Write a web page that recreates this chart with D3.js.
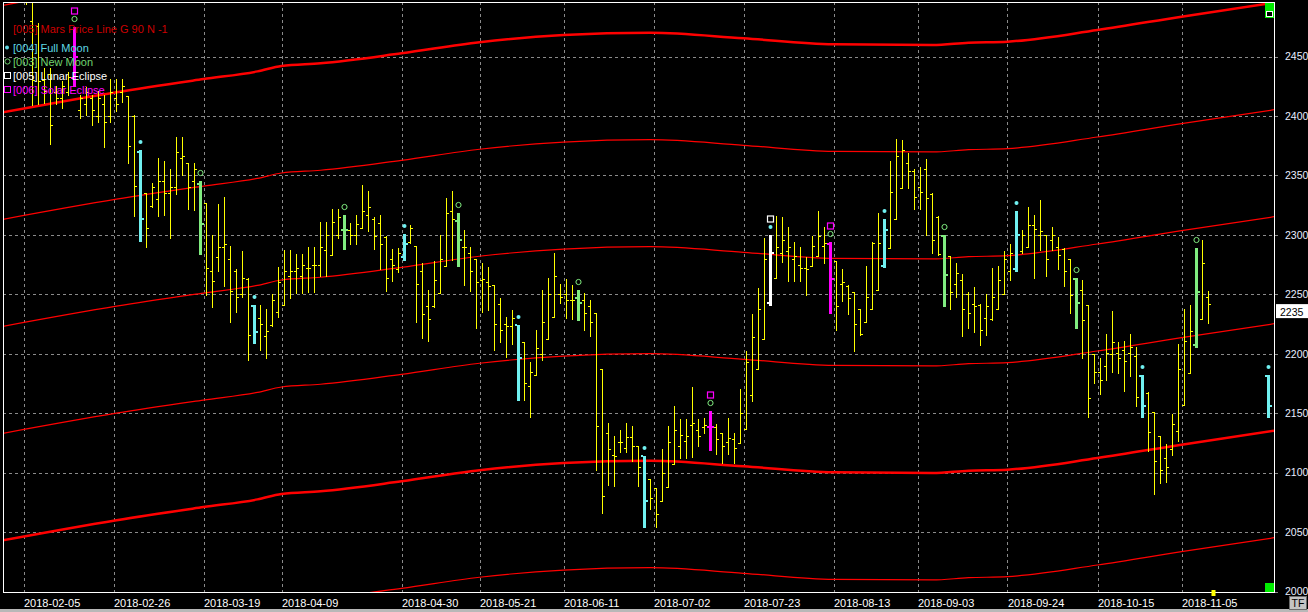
<!DOCTYPE html>
<html><head><meta charset="utf-8">
<script src="https://cdn.jsdelivr.net/npm/d3@7"></script>
<style>html,body{margin:0;padding:0;background:#000;overflow:hidden}</style>
</head><body><svg id="c" width="1308" height="612"></svg>
<script>
// ---------- DATA ----------
// bar slot index (one slot per session column); slots 198..206 carry no bar
const barSlot = d3.range(0, 198).concat([207]);
const barOpen = [2505,2480,2476,2430,2435,2420,2415,2420,2432,2405,2410,2415,2400,2410,2400,2415,2420,2417,2400,2370,
2335,2324,2330,2345,2335,2340,2365,2360,2345,2343,2327,2270,2281,2290,2280,2270,2250,2263,2240,2230,
2215,2224,2235,2241,2265,2270,2265,2272,2275,2275,2287,2283,2300,2304,2304,2300,2306,2317,2313,2310,
2298,2280,2271,2281,2294,2291,2270,2240,2240,2251,2274,2320,2312,2290,2285,2280,2262,2260,2258,2242,
2225,2223,2224,2210,2173,2182,2200,2212,2231,2250,2250,2245,2247,2245,2240,2234,2187,2133,2115,2126,
2121,2130,2122,2114,2095,2087,2076,2088,2107,2122,2127,2140,2136,2138,2138,2138,2133,2126,2128,2125,
2137,2165,2187,2212,2243,2264,2285,2286,2280,2275,2272,2274,2282,2291,2292,2278,2259,2257,2252,2238,
2227,2238,2254,2274,2289,2313,2339,2360,2354,2340,2355,2334,2315,2299,2282,2259,2262,2250,2242,2241,
2230,2229,2238,2250,2270,2271,2286,2290,2308,2300,2300,2296,2290,2288,2280,2263,2254,2241,2200,2185,
2190,2200,2201,2203,2201,2198,2181,2167,2151,2131,2112,2120,2135,2157,2184,2207,2229,2248,2181];
const barHigh = [2512,2505,2478,2440,2440,2425,2429,2437,2475,2418,2424,2418,2421,2418,2431,2431,2431,2417,2401,2371,
2335,2344,2365,2362,2355,2382,2382,2360,2360,2345,2327,2300,2326,2332,2291,2271,2286,2264,2241,2241,
2238,2250,2273,2287,2287,2284,2284,2290,2290,2311,2311,2322,2322,2317,2310,2317,2342,2337,2315,2317,
2299,2288,2289,2301,2308,2291,2276,2254,2278,2300,2331,2337,2318,2304,2290,2280,2276,2273,2258,2247,
2231,2237,2224,2210,2193,2220,2254,2264,2285,2259,2263,2258,2254,2251,2245,2234,2187,2142,2131,2136,
2142,2139,2122,2114,2095,2087,2120,2139,2156,2145,2145,2172,2145,2146,2152,2141,2133,2146,2133,2170,
2202,2233,2255,2297,2300,2316,2315,2307,2294,2290,2281,2299,2320,2307,2294,2278,2271,2258,2252,2238,
2274,2294,2318,2313,2362,2381,2380,2369,2355,2357,2364,2335,2316,2300,2282,2276,2267,2252,2256,2242,
2250,2272,2274,2286,2292,2320,2304,2323,2317,2329,2300,2307,2298,2289,2280,2264,2262,2241,2200,2196,
2217,2236,2210,2211,2217,2206,2182,2168,2151,2131,2124,2149,2208,2238,2241,2289,2296,2253,2182];
const barLow = [2494,2409,2410,2411,2376,2410,2407,2418,2425,2398,2401,2392,2395,2374,2395,2404,2412,2360,2316,2295,
2290,2323,2316,2317,2297,2334,2350,2322,2321,2284,2249,2239,2270,2257,2227,2235,2248,2195,2209,2203,
2196,2223,2231,2241,2247,2251,2251,2252,2252,2265,2265,2283,2297,2288,2292,2292,2306,2303,2288,2271,
2253,2261,2269,2279,2293,2227,2213,2211,2239,2251,2274,2279,2274,2258,2253,2222,2235,2237,2203,2210,
2197,2208,2161,2161,2147,2182,2195,2212,2231,2243,2230,2229,2228,2220,2215,2102,2066,2090,2089,2117,
2117,2110,2089,2054,2069,2054,2076,2088,2107,2112,2112,2113,2122,2133,2119,2116,2108,2116,2108,2125,
2137,2160,2187,2212,2241,2264,2277,2261,2261,2261,2249,2274,2282,2276,2234,2220,2244,2233,2202,2216,
2227,2238,2254,2273,2289,2313,2339,2339,2322,2322,2300,2285,2283,2240,2238,2248,2215,2222,2218,2207,
2216,2228,2238,2250,2262,2270,2285,2290,2264,2287,2265,2287,2271,2257,2234,2222,2196,2147,2175,2166,
2178,2185,2184,2169,2181,2156,2147,2118,2082,2091,2092,2115,2127,2157,2184,2206,2229,2226,2147];
const barClose = [2498,2430,2429,2421,2392,2415,2425,2433,2450,2415,2420,2405,2415,2395,2420,2410,2425,2375,2341,2313,
2306,2340,2345,2335,2340,2370,2366,2340,2355,2309,2272,2261,2290,2292,2253,2248,2264,2216,2218,2225,
2219,2245,2260,2270,2270,2272,2275,2272,2275,2290,2300,2311,2315,2304,2300,2309,2320,2323,2299,2292,
2264,2275,2285,2292,2306,2259,2233,2229,2262,2280,2318,2313,2296,2290,2270,2260,2263,2257,2225,2220,
2223,2230,2196,2175,2185,2205,2227,2250,2265,2248,2245,2245,2243,2234,2227,2139,2080,2120,2114,2126,
2130,2122,2105,2076,2079,2065,2100,2126,2136,2132,2131,2142,2131,2140,2138,2128,2122,2129,2121,2150,
2193,2214,2238,2280,2285,2290,2296,2290,2282,2272,2271,2291,2299,2293,2263,2240,2260,2247,2225,2217,
2248,2293,2293,2304,2336,2366,2371,2354,2332,2336,2331,2296,2284,2266,2252,2268,2238,2234,2240,2220,
2240,2248,2262,2280,2285,2300,2300,2308,2305,2303,2280,2300,2283,2270,2249,2243,2228,2163,2185,2178,
2201,2210,2196,2194,2206,2164,2156,2134,2110,2102,2105,2141,2187,2211,2219,2252,2276,2242,2156];

const fullMoonSlots = [19, 38, 63, 82, 103, 124, 143, 165, 186, 207];
const newMoonSlots = [8, 29, 53, 72, 92, 114, 134, 153, 175, 195];
const lunarEclipseSlots = [124];
const solarEclipseSlots = [8, 114, 134];

// Mars price line (base harmonic), read at these slots
const marsSlot = [-4, 15, 29.5, 38.5, 42.5, 49, 62.5, 75.5, 89.5, 104, 119.5, 134.5, 151, 157, 163.5, 178.5, 192.5, 208];
const marsBase = [2043, 2060, 2071, 2077.5, 2082, 2084.3, 2092.7, 2102, 2108, 2110, 2105.3, 2100.2, 2099.7, 2101.6, 2102.5, 2112.3, 2123.5, 2135.3];
const marsHarmonics = [-1, 0, 1, 2, 3, 4, 5];
const marsStep = 90;

const dateTickSlots = [0, 15, 30, 43, 63, 76, 90, 105, 120, 135, 149, 164, 179, 193];
const dateTickLabels = ["2018-02-05","2018-02-26","2018-03-19","2018-04-09","2018-04-30","2018-05-21","2018-06-11",
  "2018-07-02","2018-07-23","2018-08-13","2018-09-03","2018-09-24","2018-10-15","2018-11-05"];
const priceTicks = [2000, 2050, 2100, 2150, 2200, 2250, 2300, 2350, 2400, 2450];
const lastPrice = 2235;
const legendItems = [
  {label: "[004] Full Moon", kind: "dot", color: "#5fd8e4"},
  {label: "[003] New Moon", kind: "circle", color: "#6fd46f"},
  {label: "[005] Lunar Eclipse", kind: "square", color: "#ffffff"},
  {label: "[006] Solar Eclipse", kind: "square", color: "#ff00ff"}
];
const marsLegend = "[005] Mars Price Line G 90 N -1";

// ---------- STYLE ----------
const C = {yellow:"#ffff00", cyan:"#70f0f0", green:"#80ec80", magenta:"#ff00ff", white:"#ffffff",
  red:"#ff0000", grid:"#8a8a8a"};
const plot = {l:3, t:2, r:1274, b:592};
const FONT = "Liberation Sans, Arial, sans-serif";

const svg = d3.select("#c");
svg.append("rect").attr("width",1308).attr("height",612).attr("fill","#000");

const x = d3.scaleLinear().domain([0, 207]).range([26.5, 26.5 + 6*207]);
const y = d3.scaleLinear().domain([2000, 2450]).range([591.5, 56.5]);

svg.append("defs").append("clipPath").attr("id","pc").append("rect")
  .attr("x",plot.l).attr("y",plot.t).attr("width",plot.r-plot.l).attr("height",plot.b-plot.t);

// grid
const grid = svg.append("g").attr("stroke",C.grid).attr("stroke-dasharray","3,3").attr("shape-rendering","crispEdges");
grid.selectAll("line.h").data(priceTicks).join("line").attr("class","h")
  .attr("x1",plot.l).attr("x2",plot.r+7).attr("y1",d=>Math.round(y(d))+0.5).attr("y2",d=>Math.round(y(d))+0.5);
grid.selectAll("line.v").data(dateTickSlots).join("line").attr("class","v")
  .attr("x1",d=>Math.round(x(d-0.5))+0.5).attr("x2",d=>Math.round(x(d-0.5))+0.5)
  .attr("y1",plot.t).attr("y2",plot.b);

const body = svg.append("g").attr("clip-path","url(#pc)");

// Mars price lines
marsHarmonics.forEach(m=>{
  const pts = marsSlot.map((s,i)=>[s, marsBase[i] + m*marsStep]);
  body.append("path").attr("d", d3.line().x(d=>x(d[0])).y(d=>y(d[1])).curve(d3.curveMonotoneX)(pts))
    .attr("fill","none").attr("stroke",C.red).attr("stroke-width", (m % 4 === 0) ? 2.5 : 1.2);
});

// bars
const bars = barSlot.map((s,i)=>({s, o:barOpen[i], h:barHigh[i], l:barLow[i], c:barClose[i]}));
function barColor(s){
  if (solarEclipseSlots.includes(s)) return C.magenta;
  if (lunarEclipseSlots.includes(s)) return C.white;
  if (fullMoonSlots.includes(s)) return C.cyan;
  if (newMoonSlots.includes(s)) return C.green;
  return C.yellow;
}
const bg = body.append("g").attr("shape-rendering","crispEdges");
bars.forEach(b=>{
  const col = barColor(b.s);
  const ev = col !== C.yellow;
  const px = Math.floor(x(b.s));
  const yh = Math.round(y(b.h)), yl = Math.round(y(b.l));
  const yo = Math.round(y(Math.min(b.h, Math.max(b.l, b.o))));
  const yc = Math.round(y(Math.min(b.h, Math.max(b.l, b.c))));
  const w = ev ? 3 : 1, left = ev ? px-1 : px;
  bg.append("rect").attr("x",left).attr("y",yh).attr("width",w).attr("height",Math.max(1,yl-yh+1)).attr("fill",col);
  const th = ev ? 2 : 1;
  bg.append("rect").attr("x",left-2).attr("y",yo-(ev?1:0)).attr("width",2).attr("height",th).attr("fill",col);
  bg.append("rect").attr("x",left+w).attr("y",yc-(ev?1:0)).attr("width",2).attr("height",th).attr("fill",col);
});

// event markers
const mk = body.append("g");
bars.forEach(b=>{
  const cx = Math.floor(x(b.s)) + 0.5;
  const yh = Math.round(y(b.h));
  if (fullMoonSlots.includes(b.s))
    mk.append("circle").attr("cx",cx).attr("cy",yh-8).attr("r",2).attr("fill",C.cyan);
  if (newMoonSlots.includes(b.s))
    mk.append("circle").attr("cx",cx).attr("cy",yh-8).attr("r",2.6).attr("fill","none").attr("stroke",C.green).attr("stroke-width",1);
  const sq = solarEclipseSlots.includes(b.s) ? C.magenta : (lunarEclipseSlots.includes(b.s) ? C.white : null);
  if (sq)
    mk.append("rect").attr("x",cx-3).attr("y",yh-16-3).attr("width",6).attr("height",6)
      .attr("fill","none").attr("stroke",sq).attr("stroke-width",1.2);
});

// frame
const fr = svg.append("g").attr("stroke","#fff").attr("stroke-width",1.2).attr("shape-rendering","crispEdges");
fr.append("line").attr("x1",plot.l).attr("x2",plot.r).attr("y1",plot.t+0.5).attr("y2",plot.t+0.5);
fr.append("line").attr("x1",plot.l+0.5).attr("x2",plot.l+0.5).attr("y1",plot.t).attr("y2",plot.b);
fr.append("line").attr("x1",plot.r+0.5).attr("x2",plot.r+0.5).attr("y1",plot.t).attr("y2",plot.b+1);
fr.append("line").attr("x1",plot.l).attr("x2",plot.r).attr("y1",plot.b+0.5).attr("y2",plot.b+0.5);

// right axis
const yAxis = d3.axisRight(y).tickValues(priceTicks).tickSize(0).tickPadding(11).tickFormat(d3.format("d"));
const ya = svg.append("g").attr("transform",`translate(${plot.r},0)`).call(yAxis);
ya.select(".domain").remove();
ya.selectAll("text").attr("fill","#e8eeff").attr("font-family",FONT).attr("font-size",10.5);

// bottom axis
const xAxis = d3.axisBottom(x).tickValues(dateTickSlots.map(s=>s-0.5)).tickSize(0).tickPadding(7)
  .tickFormat((d,i)=>dateTickLabels[i]);
const xa = svg.append("g").attr("transform",`translate(0,${plot.b})`).call(xAxis);
xa.select(".domain").remove();
xa.selectAll("text").attr("fill","#ffffff").attr("text-anchor","start").attr("dx",0)
  .attr("font-family",FONT).attr("font-size",11);

// last price box
svg.append("rect").attr("x",1276).attr("y",y(lastPrice)-8).attr("width",32).attr("height",14).attr("fill","#fff");
svg.append("text").attr("x",1280).attr("y",y(lastPrice)+4).text(lastPrice)
  .attr("fill","#000").attr("font-family",FONT).attr("font-size",10.5);

// corner widgets
svg.append("rect").attr("x",1265).attr("y",3).attr("width",9).attr("height",15).attr("fill","#00ee00");
svg.append("rect").attr("x",1266.5).attr("y",11.5).attr("width",6).attr("height",5).attr("fill","#000").attr("stroke","#fff");
svg.append("rect").attr("x",1265).attr("y",583).attr("width",9).attr("height",9).attr("fill","#00ee00");
svg.append("rect").attr("x",x(198)-3).attr("y",590).attr("width",4).attr("height",6).attr("fill",C.yellow);
svg.append("rect").attr("x",0).attr("y",609).attr("width",1308).attr("height",3).attr("fill","#b8b8b8");
svg.append("rect").attr("x",1289.5).attr("y",596.5).attr("width",17).attr("height",13).attr("fill","#c4c4c4").attr("stroke","#6a6a6a");
svg.append("text").attr("x",1298).attr("y",607).attr("text-anchor","middle").text("TF")
  .attr("fill","#000").attr("font-family",FONT).attr("font-size",10.5);

// legend
const lg = svg.append("g").attr("font-family",FONT).attr("font-size",11);
lg.append("text").attr("x",13).attr("y",33).text(marsLegend).attr("fill","#cc0000");
legendItems.forEach((it,i)=>{
  const cy = 47.5 + i*14;
  if (it.kind==="dot") lg.append("circle").attr("cx",7).attr("cy",cy).attr("r",2).attr("fill",it.color);
  if (it.kind==="circle") lg.append("circle").attr("cx",7.5).attr("cy",cy).attr("r",2.6).attr("fill","none").attr("stroke",it.color);
  if (it.kind==="square") lg.append("rect").attr("x",4.5).attr("y",cy-3).attr("width",6).attr("height",6).attr("fill","none").attr("stroke",it.color);
  lg.append("text").attr("x",13).attr("y",cy+4).text(it.label).attr("fill",it.color);
});
</script></body></html>
